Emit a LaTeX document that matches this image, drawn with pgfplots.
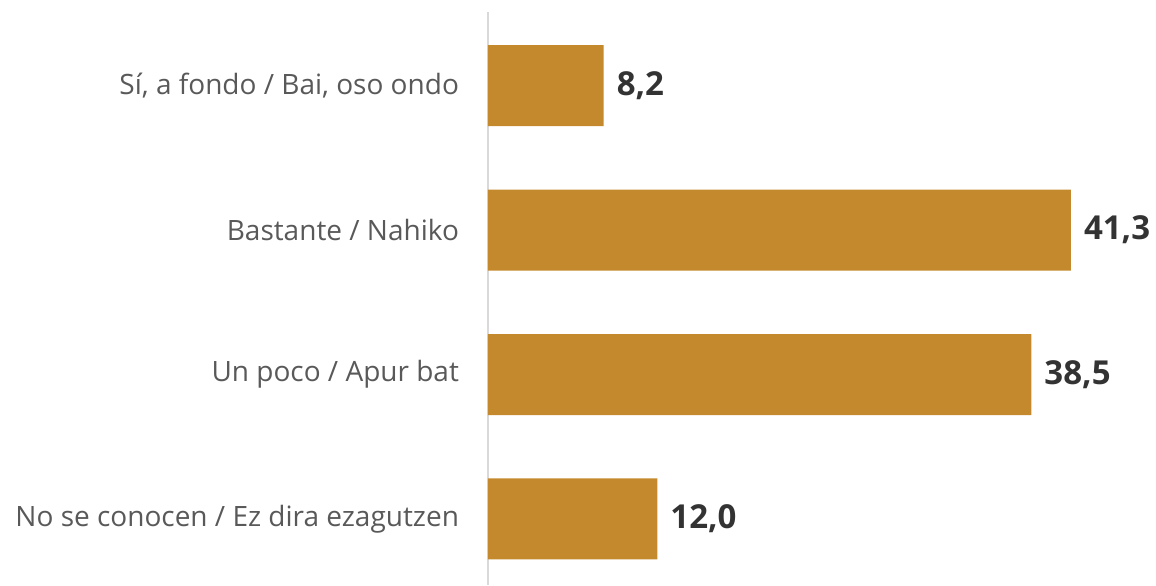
\documentclass[border=0pt]{standalone}
\usepackage{fontspec}
\setmainfont{Open Sans}
\usepackage{pgfplots}
\pgfplotsset{compat=1.18}
\definecolor{barc}{HTML}{C4892C}
\definecolor{labc}{HTML}{595959}
\definecolor{numc}{HTML}{333333}
\definecolor{axc}{HTML}{D9D9D9}
\begin{document}
\begin{tikzpicture}
\useasboundingbox (-244pt,0pt) rectangle (334pt,292.5pt);
\begin{axis}[
  at={(0,0)}, anchor=south west,
  scale only axis,
  width=331pt, height=286.5pt,
  xbar, bar width=40.5pt,
  xmin=0, xmax=46.9,
  ymin=-0.509, ymax=3.457,
  y dir=reverse,
  axis x line=none,
  axis y line*=left,
  y axis line style={draw=axc, line width=0.8pt, -},
  ytick={0,1,2,3},
  yticklabels={{Sí, a fondo / Bai, oso ondo},{Bastante / Nahiko\ },{Un poco / Apur bat},{No se conocen / Ez dira ezagutzen}},
  major tick length=0pt,
  yticklabel style={font=\fontsize{14}{17}\selectfont, text=labc, xshift=-11pt},
  nodes near coords,
  nodes near coords align=horizontal,
  nodes near coords style={font=\fontsize{16.5}{19}\selectfont\bfseries, text=numc, anchor=west, xshift=3pt},
  point meta=explicit symbolic,
]
\addplot[fill=barc, draw=none] coordinates {(8.2,0) [8,2] (41.3,1) [41,3] (38.5,2) [38,5] (12.0,3) [12,0]};
\end{axis}
\end{tikzpicture}
\end{document}
